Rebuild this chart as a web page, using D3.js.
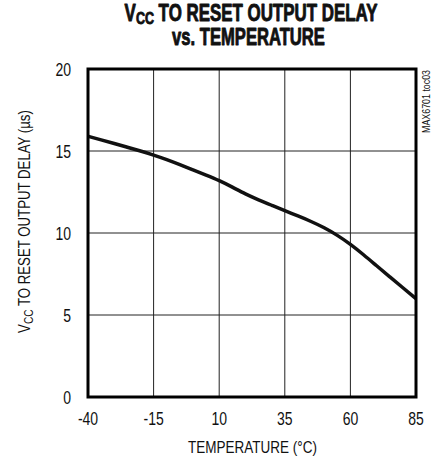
<!DOCTYPE html>
<html><head><meta charset="utf-8">
<script src="https://cdn.jsdelivr.net/npm/d3@7"></script>
<style>body{margin:0;background:#fff}svg{display:block}</style>
</head><body>
<svg id="c" width="437" height="464"></svg>
<script>
const temps = [-40,-35,-30,-25,-20,-15,-10,-5,0,5,10,15,20,25,30,35,40,45,50,55,60,65,70,75,80,85];
const delay = [15.9,15.68,15.46,15.23,15.0,14.76,14.48,14.17,13.85,13.53,13.2,12.8,12.38,12.02,11.69,11.36,11.04,10.71,10.33,9.87,9.32,8.68,8.0,7.33,6.66,6.0];
const xTicks = [-40,-15,10,35,60,85];
const yTicks = [0,5,10,15,20];

const F = "'Liberation Sans',Arial,sans-serif";
const svg = d3.select("#c");
const m = {l:88, r:416, t:69, b:397};
const x = d3.scaleLinear().domain([-40,85]).range([m.l, m.r]);
const y = d3.scaleLinear().domain([0,20]).range([m.b, m.t]);

// condensed text helper: build text at origin, then squeeze horizontally
function label(px, py, opts, build) {
  const g = svg.append("g").attr("transform", `translate(${px},${py})` + (opts.rot ? ` rotate(${opts.rot})` : ""));
  const inner = g.append("g");
  const t = inner.append("text").attr("x",0).attr("y",0)
    .attr("text-anchor", opts.anchor || "middle")
    .attr("font-family", F).attr("font-size", opts.size)
    .attr("font-weight", opts.weight || "normal").attr("fill","#111");
  if (opts.stroke) t.attr("stroke","#111").attr("stroke-width",opts.stroke).attr("stroke-linejoin","round");
  build(t);
  let s = opts.sx || 1;
  if (opts.width) s = opts.width / t.node().getComputedTextLength();
  inner.attr("transform", `scale(${s},1)`);
  return g;
}
function vcc(t, rest, subSize) {
  t.append("tspan").text("V");
  t.append("tspan").attr("font-size", subSize).attr("dy", 3).text("CC");
  t.append("tspan").attr("dy", -3).text(rest);
}

// grid
svg.append("g").selectAll("line").data(xTicks.slice(1,-1)).join("line")
  .attr("x1",d=>x(d)).attr("x2",d=>x(d)).attr("y1",m.t).attr("y2",m.b)
  .attr("stroke","#222").attr("stroke-width",1);
svg.append("g").selectAll("line").data(yTicks.slice(1,-1)).join("line")
  .attr("y1",d=>y(d)).attr("y2",d=>y(d)).attr("x1",m.l).attr("x2",m.r)
  .attr("stroke","#222").attr("stroke-width",1);

// curve
svg.append("path").datum(temps.map((t,i)=>[t,delay[i]]))
  .attr("d", d3.line().x(d=>x(d[0])).y(d=>y(d[1])).curve(d3.curveBasis))
  .attr("fill","none").attr("stroke","#111").attr("stroke-width",3.5);

// frame
svg.append("rect").attr("x",m.l).attr("y",m.t).attr("width",m.r-m.l).attr("height",m.b-m.t)
  .attr("fill","none").attr("stroke","#000").attr("stroke-width",3);

// tick labels
xTicks.forEach(d => label(x(d), 425, {size:17.5, sx:0.8}, t => t.text(d)));
yTicks.forEach(d => label(71, y(d)+7, {size:17.5, sx:0.8, anchor:"end"}, t => t.text(d)));

// title
label(251, 21, {size:23, weight:"bold", width:253, stroke:0.9}, t => vcc(t, " TO RESET OUTPUT DELAY", 17));
label(248.5, 45, {size:23, weight:"bold", width:153, stroke:0.9}, t => t.text("vs. TEMPERATURE"));

// axis titles
label(252.5, 453, {size:17, width:129}, t => t.text("TEMPERATURE (\u00B0C)"));
label(30, 221.5, {size:17, width:223, rot:-90}, t => vcc(t, " TO RESET OUTPUT DELAY (\u00B5s)", 13));

// side note
label(430, 70, {size:11, width:63, rot:-90, anchor:"end"}, t => t.text("MAX6701 toc03"));
</script>
</body></html>
